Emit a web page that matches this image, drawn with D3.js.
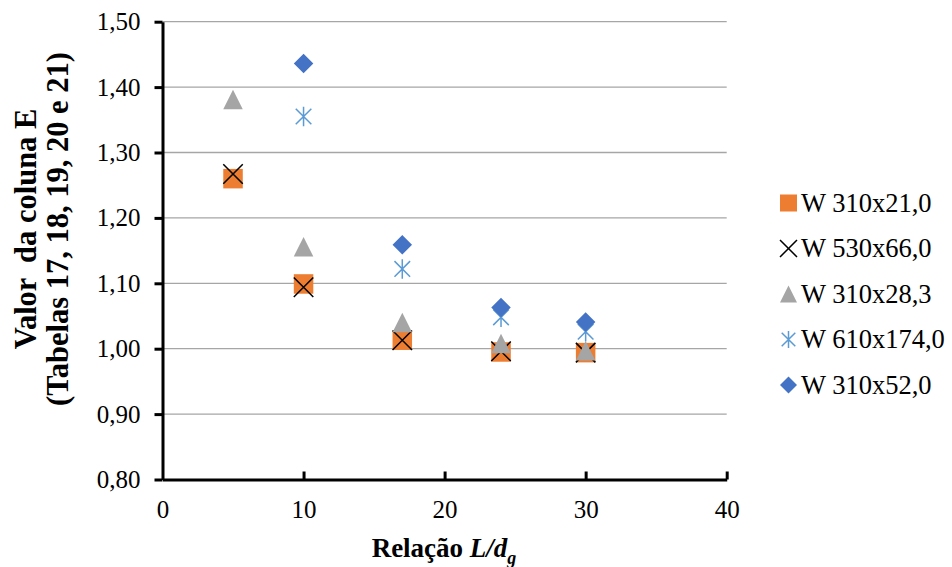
<!DOCTYPE html>
<html>
<head>
<meta charset="utf-8">
<script src="https://cdn.jsdelivr.net/npm/d3@7"></script>
<style>
  html, body { margin: 0; padding: 0; background: #fff; }
  svg { display: block; }
  text { font-family: "Liberation Serif", "Times New Roman", serif; fill: #000; }
</style>
</head>
<body>
<svg id="chart" width="952" height="567"></svg>
<script>
// L/dg ratios where column E was evaluated
const ratios = [5, 10, 17, 24, 30];

// Column E values for each profile
const w310x21 = [1.260, 1.099, 1.013, 0.995, 0.994];
const w530x66 = [1.267, 1.094, 1.013, 0.996, 0.994];
const w310x28 = [1.381, 1.156, 1.040, 1.008, 0.997];
const w610x174 = [null, 1.355, 1.122, 1.048, 1.026];
const w310x52 = [null, 1.436, 1.159, 1.063, 1.041];

const seriesNames = ["W 310x21,0", "W 530x66,0", "W 310x28,3", "W 610x174,0", "W 310x52,0"];
const seriesValues = [w310x21, w530x66, w310x28, w610x174, w310x52];
const seriesShapes = ["square", "cross", "triangle", "asterisk", "diamond"];
const seriesColors = ["#ED7D31", "#000000", "#A5A5A5", "#5B9BD5", "#4472C4"];

const xTicks = [0, 10, 20, 30, 40];
const yTicks = [0.8, 0.9, 1.0, 1.1, 1.2, 1.3, 1.4, 1.5];

const svg = d3.select("#chart");
const x = d3.scaleLinear().domain([0, 40]).range([162.5, 726.7]);
const y = d3.scaleLinear().domain([0.8, 1.5]).range([479.5, 21.7]);
const fmt = v => d3.format(".2f")(v).replace(".", ",");

// horizontal gridlines
svg.append("g").selectAll("line").data(yTicks.slice(1)).join("line")
  .attr("x1", x(0)).attr("x2", x(40))
  .attr("y1", d => y(d)).attr("y2", d => y(d))
  .attr("stroke", "#A6A6A6").attr("stroke-width", 1.3);

// y axis
const yAxis = svg.append("g").attr("transform", `translate(${x(0)},0)`)
  .call(d3.axisLeft(y).tickValues(yTicks).tickFormat(fmt).tickSizeInner(8).tickSizeOuter(0).tickPadding(14));
// x axis (ticks point into the plot)
const xAxis = svg.append("g").attr("transform", `translate(0,${y(0.8)})`)
  .call(d3.axisBottom(x).tickValues(xTicks).tickFormat(d3.format("d")).tickSizeInner(-8).tickSizeOuter(0).tickPadding(21));
xAxis.selectAll(".tick").filter(d => d === 0).select("line").remove();

[yAxis, xAxis].forEach(g => {
  g.select(".domain").attr("stroke", "#000").attr("stroke-width", 3);
  g.selectAll(".tick line").attr("stroke", "#000").attr("stroke-width", 3);
  g.selectAll(".tick text").style("font-family", "'Liberation Serif', serif").style("font-size", "25px").attr("fill", "#000");
});

// marker drawing
function drawMarker(g, shape, color, s) {
  const h = s / 2;
  if (shape === "square") {
    g.append("rect").attr("x", -h).attr("y", -h).attr("width", s).attr("height", s).attr("fill", color);
  } else if (shape === "cross") {
    g.append("path").attr("d", `M${-h},${-h}L${h},${h}M${-h},${h}L${h},${-h}`)
      .attr("stroke", color).attr("stroke-width", 1.5).attr("fill", "none");
  } else if (shape === "triangle") {
    g.append("path").attr("d", `M0,${-h}L${h},${h}L${-h},${h}Z`).attr("fill", color);
  } else if (shape === "asterisk") {
    const d = h * 0.8;
    g.append("path").attr("d", `M${-d},${-d}L${d},${d}M${-d},${d}L${d},${-d}M0,${-h}L0,${h}`)
      .attr("stroke", color).attr("stroke-width", 1.5).attr("fill", "none");
  } else if (shape === "diamond") {
    g.append("path").attr("d", `M0,${-h}L${h},0L0,${h}L${-h},0Z`).attr("fill", color);
  }
}

// data points
seriesValues.forEach((vals, i) => {
  const pts = ratios.map((r, j) => ({ r, v: vals[j] })).filter(p => p.v != null);
  const g = svg.append("g");
  pts.forEach(p => {
    const m = g.append("g").attr("transform", `translate(${x(p.r)},${y(p.v)})`);
    drawMarker(m, seriesShapes[i], seriesColors[i], 19.5);
  });
});

// legend
const legend = svg.append("g");
seriesNames.forEach((name, i) => {
  const cy = 203 + i * 45.5;
  const m = legend.append("g").attr("transform", `translate(788.5,${cy})`);
  drawMarker(m, seriesShapes[i], seriesColors[i], 17);
  legend.append("text").attr("x", 801).attr("y", cy).attr("dy", "0.33em")
    .style("font-size", "26.5px").text(name);
});

// axis titles
svg.append("text").attr("x", 444).attr("y", 557).attr("text-anchor", "middle")
  .style("font-size", "27px").style("font-weight", "bold")
  .call(t => {
    t.append("tspan").text("Relação ");
    t.append("tspan").style("font-style", "italic").text("L/d");
    t.append("tspan").style("font-style", "italic").attr("font-size", "18px").attr("dy", 7).text("g");
  });

const yTitle = svg.append("text").attr("transform", "translate(0,229) rotate(-90)")
  .attr("text-anchor", "middle").style("font-size", "30.5px").style("font-weight", "bold")
  .style("white-space", "pre");
yTitle.append("tspan").attr("x", 0).attr("y", 36).text("Valor  da coluna E");
yTitle.append("tspan").attr("x", 0).attr("y", 68).text("(Tabelas 17, 18, 19, 20 e 21)");
</script>
</body>
</html>
